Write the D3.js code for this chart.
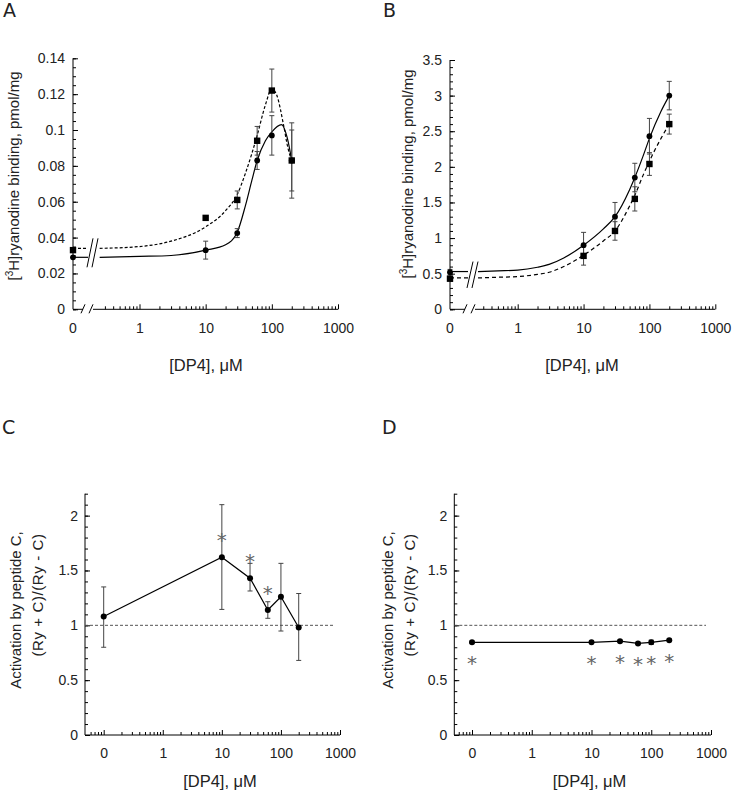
<!DOCTYPE html>
<html><head><meta charset="utf-8">
<script src="https://cdn.jsdelivr.net/npm/d3@7/dist/d3.min.js"></script>
<style>body{margin:0;background:#fff}</style>
</head><body>
<svg id="c" width="732" height="795"></svg>
<script>
// ---------------- DATA ----------------
const conc = [0, 10, 30, 60, 100, 200];           // [DP4], µM (0 = no DP4)

// Panel A: [3H]ryanodine binding (pmol/mg)
const aSquare    = [0.033, 0.051, 0.061, 0.094, 0.122, 0.083];
const aSquareErr = [0, 0, 0.005, 0.008, 0.012, 0.021];
const aCircle    = [0.029, 0.033, 0.0425, 0.083, 0.097, 0.083];
const aCircleErr = [0, 0.005, 0.0025, 0.005, 0.011, 0.017];
// fitted curves
const aFitDashX  = [0.25, 1, 3, 10, 20, 30, 40, 50, 60, 80, 100, 120, 150, 175, 200];
const aFitDashY  = [0.034, 0.035, 0.038, 0.046, 0.055, 0.064, 0.076, 0.087, 0.097, 0.114, 0.123, 0.119, 0.103, 0.090, 0.083];
const aFitSolidX = [0.25, 1, 3, 10, 20, 30, 40, 50, 60, 80, 100, 140, 170, 200];
const aFitSolidY = [0.029, 0.0295, 0.030, 0.033, 0.036, 0.043, 0.058, 0.072, 0.083, 0.094, 0.099, 0.103, 0.096, 0.083];

// Panel B
const bCircle    = [0.52, 0.90, 1.30, 1.85, 2.43, 3.00];
const bCircleErr = [0.04, 0.18, 0.20, 0.20, 0.25, 0.20];
const bSquare    = [0.43, 0.75, 1.10, 1.55, 2.04, 2.60];
const bSquareErr = [0.03, 0.13, 0.13, 0.17, 0.16, 0.14];
const bFitX      = [0.25, 0.5, 1, 2, 3, 5, 10, 20, 30, 50, 60, 80, 100, 150, 200];
const bFitSolidY = [0.53, 0.54, 0.55, 0.59, 0.63, 0.72, 0.90, 1.13, 1.30, 1.68, 1.85, 2.15, 2.40, 2.78, 3.00];
const bFitDashY  = [0.44, 0.45, 0.46, 0.49, 0.52, 0.60, 0.76, 0.96, 1.10, 1.45, 1.60, 1.88, 2.08, 2.40, 2.60];

// Panel C: activation ratio
const cRatio = [1.08, 1.62, 1.43, 1.14, 1.26, 0.98];
const cHigh  = [1.35, 2.10, 1.565, 1.215, 1.565, 1.29];
const cLow   = [0.80, 1.145, 1.313, 1.064, 0.948, 0.68];
const cStar  = [false, true, true, true, false, false];

// Panel D
const dRatio = [0.845, 0.845, 0.855, 0.835, 0.845, 0.865];
const dErr   = [0.01, 0.01, 0.01, 0.01, 0.02, 0.01];
const dStar  = [true, true, true, true, true, true];

// Tick labels
const xMajorLabels = ["0", "1", "10", "100", "1000"];
const aYTicks = [0, 0.02, 0.04, 0.06, 0.08, 0.1, 0.12, 0.14];
const bYTicks = [0, 0.5, 1, 1.5, 2, 2.5, 3, 3.5];
const rYTicks = [0, 0.5, 1, 1.5, 2];

// ---------------- DRAWING ----------------
const FONT = "'Liberation Sans', Arial, Helvetica, sans-serif";
const svg = d3.select("#c");
const TXT = "#222";

function minorLog(from, to) {
  const out = [];
  for (let e = from; e < to; e++) for (let k = 2; k <= 9; k++) out.push(k * Math.pow(10, e));
  return out;
}
function fmtNum(v) { return String(+v.toFixed(3)); }

function styleAxis(sel) {
  sel.select(".domain").remove();
  sel.selectAll("line").attr("stroke", "#000").attr("stroke-width", 1);
  sel.selectAll("text").attr("font-family", FONT).attr("font-size", 14).attr("fill", TXT);
}

function errorBars(g, xs, ys, lo, hi, y) {
  xs.forEach((xv, i) => {
    if (hi[i] - lo[i] <= 0) return;
    const y1 = y(hi[i]), y2 = y(lo[i]);
    g.append("line").attr("x1", xv).attr("x2", xv).attr("y1", y1).attr("y2", y2)
      .attr("stroke", "#444").attr("stroke-width", 1);
    [y1, y2].forEach(yy => g.append("line").attr("x1", xv - 2.5).attr("x2", xv + 2.5)
      .attr("y1", yy).attr("y2", yy).attr("stroke", "#444").attr("stroke-width", 1));
  });
}

function slashes(g, xa, xb, yLo, yHi, w) {
  [xa, xb].forEach(xx => g.append("line").attr("x1", xx).attr("y1", yLo).attr("x2", xx + w).attr("y2", yHi)
    .attr("stroke", "#000").attr("stroke-width", 1));
}

function letter(t, x, y) {
  svg.append("text").attr("x", x).attr("y", y).text(t)
    .attr("font-family", "'DejaVu Sans', sans-serif").attr("font-size", 19).attr("fill", TXT);
}

function xTitle(cx, by) {
  svg.append("text").attr("x", cx).attr("y", by).attr("text-anchor", "middle")
    .attr("font-family", FONT).attr("font-size", 16.5).attr("fill", TXT).text("[DP4], \u03BCM");
}

// ---- Binding panels (A, B)
function bindingPanel(p) {
  const g = svg.append("g");
  const x = d3.scaleLog().domain([1, 1000]).range([p.x1, p.x1000]);
  const y = d3.scaleLinear().domain([0, p.yMax]).range([p.y0, p.yTop]);
  const xPos = c => c === 0 ? p.ax : x(c);

  // y axis
  g.append("line").attr("x1", p.ax).attr("x2", p.ax).attr("y1", p.y0).attr("y2", p.yTop).attr("stroke", "#000");
  const nMinor = Math.round(p.yMax / p.yMinor);
  const yMin = d3.range(0, nMinor + 1).map(i => +(i * p.yMinor).toFixed(4));
  g.append("g").attr("transform", `translate(${p.ax},0)`)
    .call(d3.axisLeft(y).tickValues(yMin).tickSize(-3).tickFormat("")).call(styleAxis);
  g.append("g").attr("transform", `translate(${p.ax},0)`)
    .call(d3.axisLeft(y).tickValues(p.yTicks).tickSize(-5).tickPadding(8).tickFormat(fmtNum)).call(styleAxis);

  // x axis with break
  g.append("line").attr("x1", p.ax).attr("x2", p.axBreak1).attr("y1", p.y0).attr("y2", p.y0).attr("stroke", "#000");
  g.append("line").attr("x1", p.axBreak2).attr("x2", x(1000)).attr("y1", p.y0).attr("y2", p.y0).attr("stroke", "#000");
  slashes(g, p.axBreak1 - 2, p.axBreak1 + 6, p.y0 + 4, p.y0 - 5, 4);
  g.append("g").attr("transform", `translate(0,${p.y0})`)
    .call(d3.axisBottom(x).tickValues([0.3,0.4,0.5,0.6,0.7,0.8,0.9].concat(minorLog(0, 3))).tickSize(-3).tickFormat("")).call(styleAxis);
  g.append("g").attr("transform", `translate(0,${p.y0})`)
    .call(d3.axisBottom(x).tickValues([1, 10, 100, 1000]).tickSize(-5).tickPadding(14)
      .tickFormat((d, i) => xMajorLabels[i + 1])).call(styleAxis);
  g.append("text").attr("x", p.ax).attr("y", p.y0 + 14).attr("dy", "0.71em").attr("text-anchor", "middle")
    .attr("font-family", FONT).attr("font-size", 14).attr("fill", TXT).text(xMajorLabels[0]);

  // fitted curves (with break)
  const fits = [
    {xs: p.fitDashX, ys: p.fitDashY, dash: p.dash},
    {xs: p.fitSolidX, ys: p.fitSolidY, dash: null}
  ];
  let yLoB = Infinity, yHiB = -Infinity;
  fits.forEach(f => {
    const y0v = y(f.ys[0]);
    yLoB = Math.min(yLoB, y0v); yHiB = Math.max(yHiB, y0v);
    const seg = g.append("line").attr("x1", p.ax).attr("x2", p.cBreak).attr("y1", y0v).attr("y2", y0v)
      .attr("stroke", "#000").attr("stroke-width", 1.2);
    const path = g.append("path")
      .datum(f.xs.map((xv, i) => [x(xv), y(f.ys[i])]))
      .attr("d", d3.line().curve(d3.curveMonotoneX))
      .attr("fill", "none").attr("stroke", "#000").attr("stroke-width", 1.2);
    if (f.dash) { seg.attr("stroke-dasharray", f.dash); path.attr("stroke-dasharray", f.dash); }
  });
  slashes(g, p.cBreak - 1, p.cBreak + 4, yHiB + 10, yLoB - 10, 6);

  // error bars + markers
  const xs = conc.map(xPos);
  errorBars(g, xs, p.circle, p.circle.map((v, i) => v - p.circleErr[i]), p.circle.map((v, i) => v + p.circleErr[i]), y);
  errorBars(g, xs, p.square, p.square.map((v, i) => v - p.squareErr[i]), p.square.map((v, i) => v + p.squareErr[i]), y);
  xs.forEach((xv, i) => {
    g.append("rect").attr("x", xv - 3.2).attr("y", y(p.square[i]) - 3.2).attr("width", 6.4).attr("height", 6.4).attr("fill", "#000");
    g.append("circle").attr("cx", xv).attr("cy", y(p.circle[i])).attr("r", 2.9).attr("fill", "#000");
  });

  // y title
  const t = svg.append("text").attr("transform", `translate(${p.titleX},${p.titleY}) rotate(-90)`)
    .attr("text-anchor", "middle").attr("font-family", FONT).attr("font-size", 15).attr("fill", TXT);
  t.append("tspan").text("[");
  t.append("tspan").attr("font-size", 10).attr("dy", -6).text("3");
  t.append("tspan").attr("dy", 6).text("H]ryanodine binding, pmol/mg");
}

bindingPanel({
  ax: 73, x1: 139.5, x1000: 338, y0: 309.3, yTop: 58.3, yMax: 0.14, yMinor: 0.005, yTicks: aYTicks,
  axBreak1: 83, axBreak2: 93, cBreak: 88,
  fitDashX: aFitDashX, fitDashY: aFitDashY, fitSolidX: aFitSolidX, fitSolidY: aFitSolidY, dash: "3,2",
  circle: aCircle, circleErr: aCircleErr, square: aSquare, squareErr: aSquareErr,
  titleX: 18.5, titleY: 176
});
bindingPanel({
  ax: 450, x1: 517.7, x1000: 715.3, y0: 309.3, yTop: 60, yMax: 3.5, yMinor: 0.1, yTicks: bYTicks,
  axBreak1: 465, axBreak2: 475, cBreak: 468,
  fitDashX: bFitX, fitDashY: bFitDashY, fitSolidX: bFitX, fitSolidY: bFitSolidY, dash: "4,3",
  circle: bCircle, circleErr: bCircleErr, square: bSquare, squareErr: bSquareErr,
  titleX: 413, titleY: 174
});

// ---- Ratio panels (C, D)
function ratioPanel(p) {
  const g = svg.append("g");
  const x = d3.scaleLog().domain([0.1, 1000]).range([p.x01, p.x1000]);
  const y = d3.scaleLinear().domain([0, 2.2]).range([735, 493.7]);
  const xPos = c => c === 0 ? x(0.1) : x(c);

  // axes
  g.append("line").attr("x1", p.ax).attr("x2", p.ax).attr("y1", y(0)).attr("y2", y(2.2)).attr("stroke", "#000");
  g.append("line").attr("x1", p.ax).attr("x2", x(1000)).attr("y1", y(0)).attr("y2", y(0)).attr("stroke", "#000");
  const yMin = d3.range(0, 23).map(i => +(i * 0.1).toFixed(2));
  g.append("g").attr("transform", `translate(${p.ax},0)`)
    .call(d3.axisLeft(y).tickValues(yMin).tickSize(-3).tickFormat("")).call(styleAxis);
  g.append("g").attr("transform", `translate(${p.ax},0)`)
    .call(d3.axisLeft(y).tickValues(rYTicks).tickSize(-5).tickPadding(7).tickFormat(fmtNum)).call(styleAxis);
  g.append("g").attr("transform", `translate(0,${y(0)})`)
    .call(d3.axisBottom(x).tickValues([0.06, 0.07, 0.08, 0.09].concat(minorLog(-1, 3))).tickSize(-3).tickFormat("")).call(styleAxis);
  g.append("g").attr("transform", `translate(0,${y(0)})`)
    .call(d3.axisBottom(x).tickValues([0.1, 1, 10, 100, 1000]).tickSize(-5).tickPadding(13)
      .tickFormat((d, i) => xMajorLabels[i])).call(styleAxis);

  // reference line at 1
  g.append("line").attr("x1", p.ax).attr("x2", p.refEnd).attr("y1", y(1)).attr("y2", y(1))
    .attr("stroke", "#555").attr("stroke-width", 1).attr("stroke-dasharray", "3,2");

  const xs = conc.map(xPos);
  errorBars(g, xs, p.vals, p.lo, p.hi, y);
  g.append("path").datum(xs.map((xv, i) => [xv, y(p.vals[i])]))
    .attr("d", d3.line()).attr("fill", "none").attr("stroke", "#000").attr("stroke-width", 1.2);
  xs.forEach((xv, i) => g.append("circle").attr("cx", xv).attr("cy", y(p.vals[i])).attr("r", 3).attr("fill", "#000"));
  xs.forEach((xv, i) => {
    if (!p.star[i]) return;
    const cy = y(p.vals[i]) + p.starOff;
    g.append("text").attr("x", xv).attr("y", cy + 12).attr("text-anchor", "middle")
      .attr("font-family", "'DejaVu Sans', sans-serif").attr("font-size", 20).attr("fill", "#666").text("*");
  });

  // y title (two lines)
  svg.append("text").attr("transform", `translate(${p.titleX},${p.titleY}) rotate(-90)`)
    .attr("text-anchor", "middle").attr("font-family", FONT).attr("font-size", 15).attr("fill", TXT)
    .text("Activation by peptide C,");
  svg.append("text").attr("transform", `translate(${p.titleX + 22},${p.titleY - 15}) rotate(-90)`)
    .attr("text-anchor", "middle").attr("font-family", FONT).attr("font-size", 15).attr("fill", TXT)
    .attr("letter-spacing", 0.6).text("(Ry + C)/(Ry - C)");
}

ratioPanel({
  ax: 85, x01: 103.7, x1000: 340, refEnd: 334,
  vals: cRatio, lo: cLow, hi: cHigh, star: cStar, starOff: -22,
  titleX: 20.5, titleY: 610
});
ratioPanel({
  ax: 454.3, x01: 472, x1000: 711, refEnd: 706,
  vals: dRatio, lo: dRatio.map((v, i) => v - dErr[i]), hi: dRatio.map((v, i) => v + dErr[i]), star: dStar, starOff: 16,
  titleX: 392.5, titleY: 610
});

// panel letters & x titles
letter("A", 3, 17); letter("B", 383, 17); letter("C", 2, 434); letter("D", 382, 434);
xTitle(206, 371); xTitle(582, 371); xTitle(220, 787); xTitle(589.5, 787);
</script>
</body></html>
